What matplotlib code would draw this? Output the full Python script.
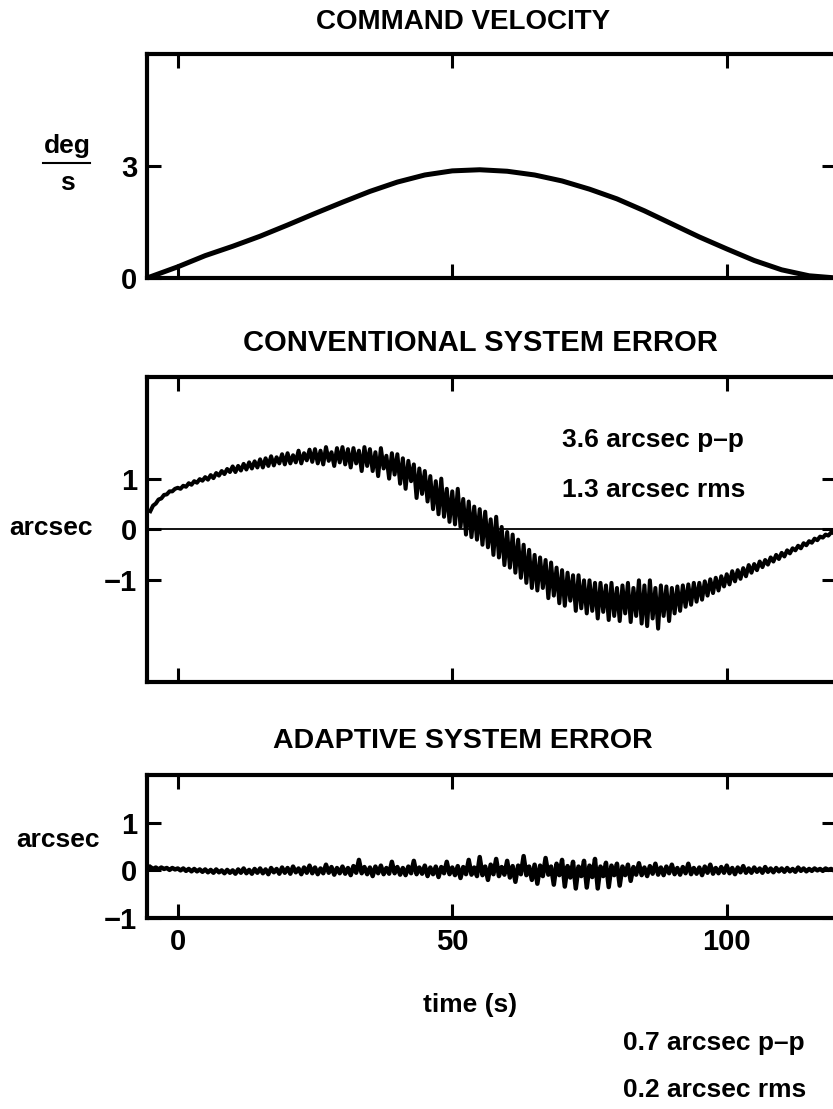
import numpy as np
import matplotlib.pyplot as plt

plt.rcParams['font.family'] = ['Liberation Sans', 'DejaVu Sans']
plt.rcParams['font.weight'] = 'bold'

# command velocity (deg/s)
cmd_t = [-5.6, 0, 5, 10, 15, 20, 25, 30, 35, 40, 45, 50, 55, 60, 65, 70, 75, 80, 85, 90, 95, 100, 105, 110, 115, 120]
cmd_v = [0, 0.30, 0.60, 0.85, 1.12, 1.42, 1.73, 2.03, 2.32, 2.57, 2.76, 2.87, 2.90, 2.86, 2.76, 2.60, 2.38, 2.12,
         1.80, 1.45, 1.10, 0.78, 0.47, 0.22, 0.06, 0.0]

# error traces (arcsec), one value every half second from t=-5 to t=120
err_t = np.arange(-5, 120.25, 0.5)
conv_err = [0.36, 0.47, 0.51, 0.59, 0.61, 0.68, 0.69, 0.75, 0.75, 0.80,
            0.82, 0.80, 0.86, 0.84, 0.91, 0.88, 0.95, 0.92, 0.99, 0.96,
            1.03, 0.98, 1.07, 1.01, 1.11, 1.06, 1.15, 1.09, 1.19, 1.13,
            1.24, 1.13, 1.25, 1.16, 1.29, 1.18, 1.32, 1.20, 1.34, 1.22,
            1.38, 1.22, 1.40, 1.25, 1.44, 1.26, 1.42, 1.30, 1.48, 1.28,
            1.50, 1.30, 1.46, 1.32, 1.55, 1.30, 1.50, 1.36, 1.57, 1.33,
            1.58, 1.30, 1.55, 1.28, 1.62, 1.35, 1.52, 1.25, 1.60, 1.32,
            1.62, 1.28, 1.58, 1.22, 1.60, 1.30, 1.55, 1.15, 1.62, 1.25,
            1.58, 1.15, 1.52, 1.05, 1.60, 1.20, 1.45, 1.00, 1.50, 1.08,
            1.48, 0.90, 1.40, 0.80, 1.35, 0.95, 1.28, 0.62, 1.20, 0.70,
            1.15, 0.55, 1.05, 0.40, 0.95, 0.30, 1.00, 0.25, 0.80, 0.15,
            0.75, 0.10, 0.80, 0.05, 0.60, -0.10, 0.55, -0.15, 0.45, -0.20,
            0.40, -0.30, 0.35, -0.35, 0.20, -0.50, 0.25, -0.55, 0.05, -0.70,
            -0.05, -0.75, -0.10, -0.85, -0.20, -0.95, -0.30, -1.05, -0.40, -1.15,
            -0.50, -1.20, -0.55, -1.15, -0.60, -1.35, -0.65, -1.30, -0.75, -1.45,
            -0.80, -1.50, -0.85, -1.40, -0.90, -1.60, -0.90, -1.55, -1.00, -1.65,
            -1.00, -1.60, -1.05, -1.75, -1.05, -1.62, -1.10, -1.78, -1.05, -1.70,
            -1.15, -1.80, -1.10, -1.65, -1.05, -1.82, -1.15, -1.70, -1.00, -1.85,
            -1.10, -1.90, -1.00, -1.75, -1.15, -1.95, -1.10, -1.70, -1.12, -1.80,
            -1.15, -1.65, -1.12, -1.60, -1.10, -1.52, -1.08, -1.48, -1.05, -1.42,
            -1.05, -1.38, -1.02, -1.30, -0.98, -1.25, -0.95, -1.20, -0.92, -1.12,
            -0.88, -1.08, -0.82, -1.02, -0.80, -0.97, -0.76, -0.92, -0.70, -0.85,
            -0.68, -0.80, -0.63, -0.74, -0.60, -0.69, -0.55, -0.63, -0.50, -0.58,
            -0.46, -0.53, -0.41, -0.47, -0.37, -0.41, -0.32, -0.37, -0.27, -0.31,
            -0.23, -0.26, -0.18, -0.21, -0.14, -0.16, -0.10, -0.12, -0.06, -0.07,
            -0.03]
adapt_err = [0.07, 0.03, 0.06, 0.02, 0.06, 0.03, 0.05, 0.01, 0.05, 0.02,
             0.04, 0.00, 0.04, -0.01, 0.03, -0.02, 0.03, -0.02, 0.02, -0.03,
             0.02, -0.04, 0.01, -0.05, 0.02, -0.04, 0.00, -0.06, 0.01, -0.05,
             0.00, -0.07, 0.02, -0.05, 0.04, -0.06, 0.01, -0.07, 0.03, -0.05,
             0.04, -0.06, 0.02, -0.08, 0.05, -0.04, 0.03, -0.07, 0.06, -0.05,
             0.05, -0.07, 0.08, -0.04, 0.04, -0.08, 0.06, -0.05, 0.10, -0.06,
             0.06, -0.08, 0.04, -0.06, 0.12, -0.05, 0.07, -0.09, 0.05, -0.06,
             0.08, -0.07, 0.05, -0.10, 0.09, -0.05, 0.22, -0.06, 0.07, -0.08,
             0.06, -0.12, 0.08, -0.06, 0.10, -0.08, 0.05, -0.07, 0.18, -0.06,
             0.07, -0.09, 0.05, -0.10, 0.08, -0.06, 0.20, -0.08, 0.06, -0.07,
             0.10, -0.12, 0.06, -0.08, 0.08, -0.14, 0.07, -0.06, 0.18, -0.08,
             0.06, -0.10, 0.09, -0.16, 0.07, -0.08, 0.22, -0.09, 0.06, -0.12,
             0.28, -0.10, 0.08, -0.20, 0.12, -0.08, 0.24, -0.12, 0.07, -0.09,
             0.20, -0.15, 0.09, -0.24, 0.10, -0.08, 0.30, -0.10, 0.08, -0.20,
             0.12, -0.28, 0.10, -0.12, 0.26, -0.09, 0.08, -0.30, 0.14, -0.10,
             0.22, -0.34, 0.09, -0.15, 0.18, -0.38, 0.08, -0.12, 0.20, -0.36,
             0.10, -0.14, 0.24, -0.38, 0.08, -0.12, 0.16, -0.35, 0.10, -0.10,
             0.14, -0.32, 0.08, -0.10, 0.12, -0.22, 0.07, -0.09, 0.15, -0.10,
             0.06, -0.12, 0.09, -0.07, 0.14, -0.09, 0.06, -0.10, 0.08, -0.06,
             0.12, -0.08, 0.05, -0.09, 0.07, -0.06, 0.14, -0.08, 0.05, -0.07,
             0.06, -0.10, 0.08, -0.05, 0.12, -0.07, 0.05, -0.06, 0.07, -0.05,
             0.10, -0.06, 0.05, -0.08, 0.06, -0.04, 0.09, -0.05, 0.04, -0.05,
             0.06, -0.03, 0.04, -0.05, 0.07, -0.03, 0.04, -0.04, 0.05, -0.02,
             0.04, -0.03, 0.05, -0.02, 0.03, -0.03, 0.06, -0.01, 0.04, -0.02,
             0.03, -0.01, 0.04, 0.00, 0.03, -0.01, 0.04, 0.01, 0.03, 0.00,
             0.02]

time_ticks = [0, 50, 100]

fig = plt.figure(figsize=(8.33, 11.09), dpi=100)
ax1 = fig.add_axes([0.1765, 0.7493, 0.8271, 0.2020])
ax2 = fig.add_axes([0.1765, 0.3850, 0.8271, 0.2751])
ax3 = fig.add_axes([0.1765, 0.1722, 0.8271, 0.1289])

for ax in (ax1, ax2, ax3):
    ax.set_xlim(-5.6, 119.9)
    ax.set_xticks(time_ticks)
    for sp in ax.spines.values():
        sp.set_linewidth(3)
    ax.tick_params(direction='in', length=10, width=2.2, top=True, right=True, labelsize=21, pad=7)

ax1.plot(cmd_t, cmd_v, color='black', lw=3.6, solid_capstyle='butt')
ax1.set_ylim(0, 6)
ax1.set_yticks([0, 3])
ax1.tick_params(labelbottom=False)

ax2.plot(err_t, conv_err, color='black', lw=2.9)
ax2.axhline(0, color='black', lw=1.3)
ax2.set_ylim(-3, 3)
ax2.set_yticks([-1, 0, 1])
ax2.tick_params(labelbottom=False)

ax3.plot(err_t, adapt_err, color='black', lw=3.2)
ax3.set_ylim(-1, 2)
ax3.set_yticks([-1, 0, 1])

fig.text(0.556, 0.9802, 'COMMAND VELOCITY', ha='center', va='center', fontsize=20)
fig.text(0.577, 0.6907, 'CONVENTIONAL SYSTEM ERROR', ha='center', va='center', fontsize=21)
fig.text(0.556, 0.3318, 'ADAPTIVE SYSTEM ERROR', ha='center', va='center', fontsize=20.5)

fig.text(67 / 833, 1 - 146 / 1109, 'deg', ha='center', va='center', fontsize=19)
fig.text(67 / 833, 1 - 183 / 1109, 's', ha='center', va='center', fontsize=19)
fig.add_artist(plt.Line2D([43 / 833, 90 / 833], [1 - 163 / 1109] * 2, color='black', lw=1.5))
fig.text(51 / 833, 1 - 528 / 1109, 'arcsec', ha='center', va='center', fontsize=19)
fig.text(58 / 833, 1 - 840 / 1109, 'arcsec', ha='center', va='center', fontsize=19)

fig.text(562 / 833, 1 - 440 / 1109, '3.6 arcsec p\u2013p', ha='left', va='center', fontsize=19)
fig.text(562 / 833, 1 - 490 / 1109, '1.3 arcsec rms', ha='left', va='center', fontsize=19)
fig.text(470 / 833, 1 - 1005 / 1109, 'time (s)', ha='center', va='center', fontsize=19)
fig.text(623 / 833, 1 - 1043 / 1109, '0.7 arcsec p\u2013p', ha='left', va='center', fontsize=19)
fig.text(623 / 833, 1 - 1090 / 1109, '0.2 arcsec rms', ha='left', va='center', fontsize=19)

fig.savefig('out.png', dpi=100)
